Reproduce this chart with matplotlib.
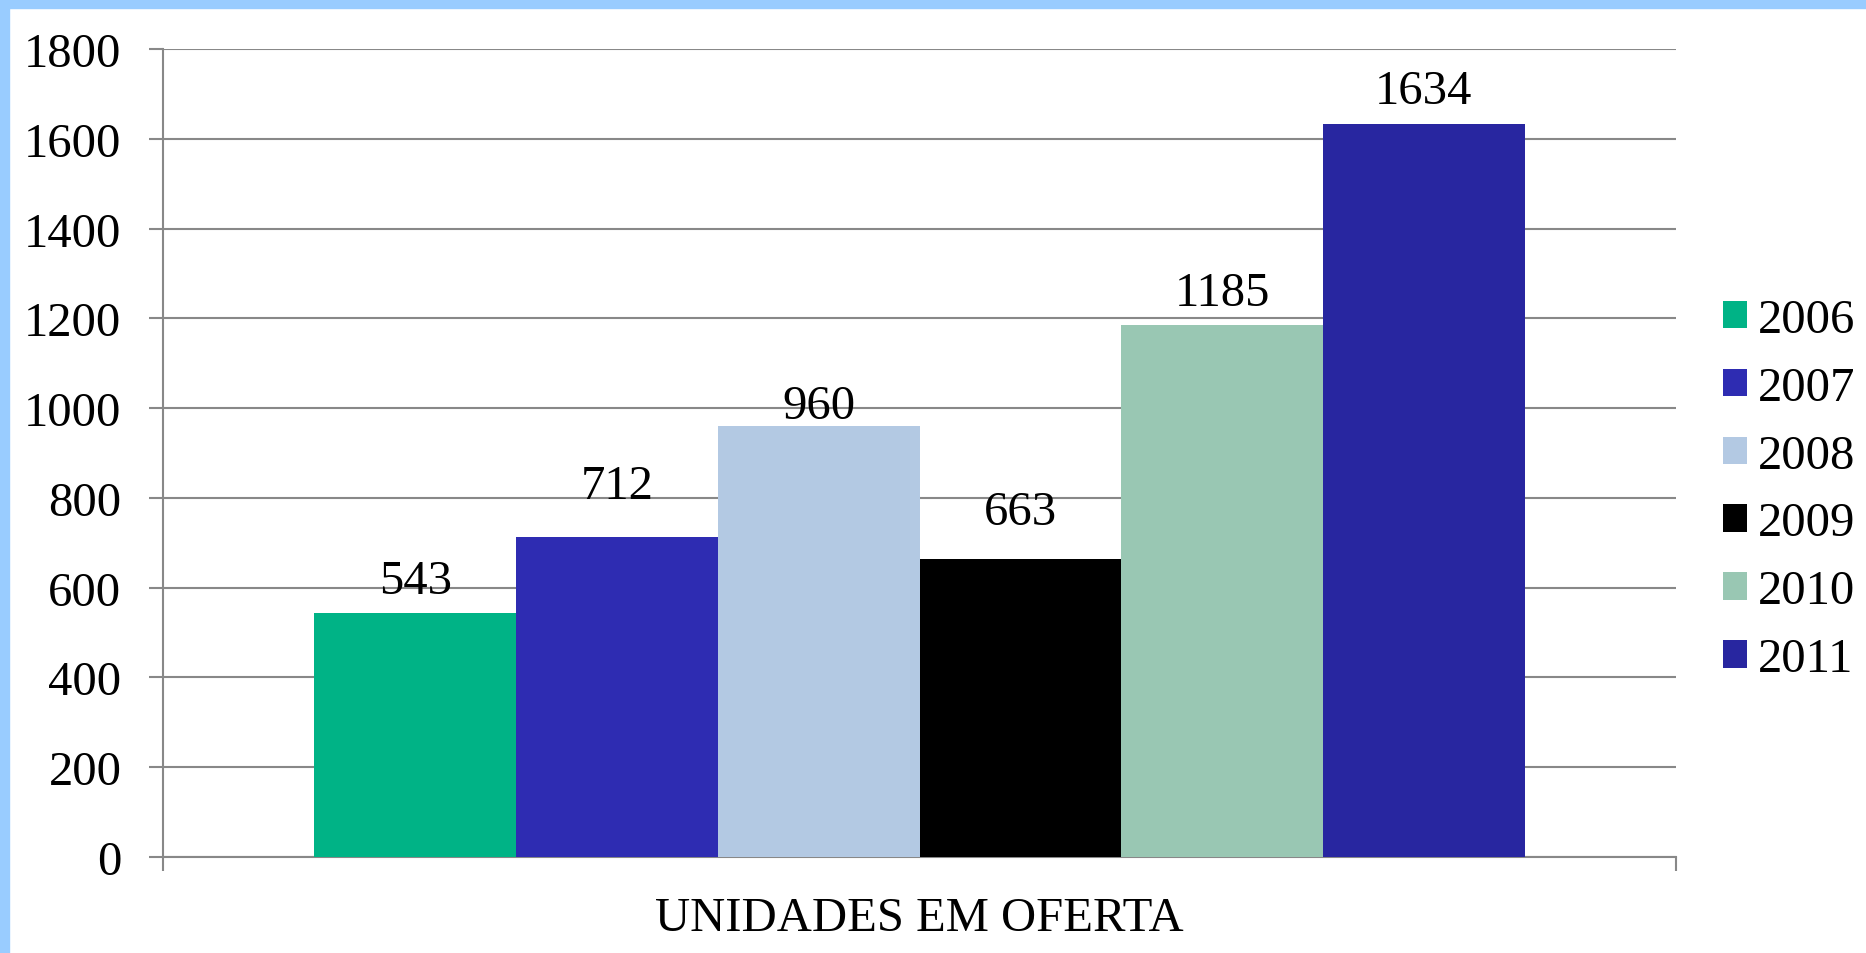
import matplotlib
matplotlib.use("Agg")
import matplotlib.pyplot as plt
from matplotlib.patches import Rectangle
import numpy as np

years = ["2006", "2007", "2008", "2009", "2010", "2011"]
values = [543, 712, 960, 663, 1185, 1634]
colors = ["#00B386", "#2E2CB2", "#B3C9E3", "#000000", "#99C7B3", "#2826A0"]
category = "UNIDADES EM OFERTA"
yticks = [0, 200, 400, 600, 800, 1000, 1200, 1400, 1600, 1800]
# vertical offsets (points) of the value labels above bars, as placed in the original
label_offsets = [7.7, 21.4, -1.7, 18.0, 6.9, 7.7]

plt.rcParams['font.family'] = ['Liberation Serif', 'DejaVu Serif']
FS = 35
GRAY = "#888888"

fig = plt.figure(figsize=(18.66, 9.54), dpi=100)
ax = fig.add_axes([0.0874, 0.1006, 0.8108, 0.847])

n = len(values)
w = 0.8 / n
handles = []
for i, (y, v, c, off) in enumerate(zip(years, values, colors, label_offsets)):
    x = -0.4 + w * (i + 0.5)
    b = ax.bar(x, v, width=w, color=c, label=y, zorder=3)
    handles.append(b)
    ax.annotate(str(v), (x, v), xytext=(0, off), textcoords="offset points",
                ha="center", va="bottom", fontsize=FS, zorder=4)

ax.set_xlim(-0.5, 0.5)
ax.set_ylim(0, 1800)
ax.set_yticks(yticks)
ax.set_yticklabels([str(t) for t in yticks], fontsize=FS)
ax.yaxis.grid(True, color=GRAY, linewidth=1.5, zorder=0)
ax.set_xticks([-0.5, 0.5])
ax.set_xticklabels([])
ax.tick_params(axis='x', length=10, width=1.5, color=GRAY, direction='out')
ax.tick_params(axis='y', length=10, width=1.5, color=GRAY, direction='out', pad=20)
ax.text(0, -0.0755, category, transform=ax.get_xaxis_transform(), ha="center",
        va="center", fontsize=FS)

for s in ["top", "right"]:
    ax.spines[s].set_visible(False)
for s in ["left", "bottom"]:
    ax.spines[s].set_color(GRAY)
    ax.spines[s].set_linewidth(1.5)

fig.legend(handles=handles, labels=years, loc="center left",
           bbox_to_anchor=(0.9234, 0.4858), frameon=False, fontsize=FS,
           handlelength=0.49, handleheight=0.49, handletextpad=0.23,
           labelspacing=0.49, borderpad=0, borderaxespad=0)

# light blue frame (top and left)
BORDER = "#99CCFF"
fig.patches.append(Rectangle((0, 1 - 9 / 954), 1, 9 / 954, transform=fig.transFigure,
                             color=BORDER, zorder=10))
fig.patches.append(Rectangle((0, 0), 9 / 1866, 1, transform=fig.transFigure,
                             color=BORDER, zorder=10))

fig.savefig("out.png", dpi=100)
